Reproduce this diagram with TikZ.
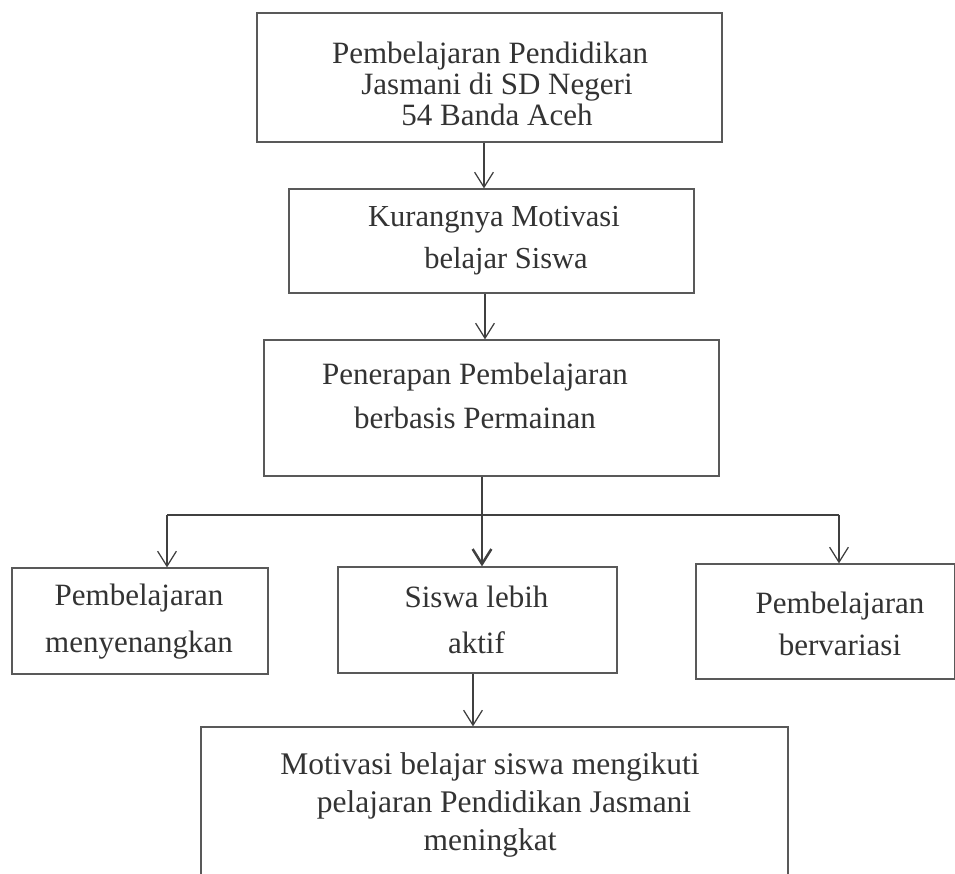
\documentclass[tikz,border=0pt]{standalone}
\usepackage{fontspec}
\setmainfont{Liberation Serif}
\usetikzlibrary{arrows.meta}
\begin{document}
\begin{tikzpicture}[x=0.4pt,y=-0.4pt,
  box/.style={draw=black!65, line width=0.5pt, rectangle, inner sep=0pt},
  txt/.style={align=center, text=black!80, inner sep=0pt},
  conn/.style={draw=black!75, line width=0.5pt},
  arr/.style={conn, -{Straight Barb[length=6pt,width=7.5pt]}}]
\clip (0,0) rectangle (955,874);
\fill[white] (0,0) rectangle (955,874);
% boxes
\node[box, minimum width=186pt, minimum height=51.6pt] (b1) at (489.5,77.5) {};
\node[box, minimum width=162pt, minimum height=41.6pt] (b2) at (491.5,241) {};
\node[box, minimum width=182pt, minimum height=54.4pt] (b3) at (491.5,408) {};
\node[box, minimum width=102.4pt, minimum height=42.4pt] (b4) at (140,621) {};
\node[box, minimum width=111.6pt, minimum height=42.4pt] (b5) at (477.5,620) {};
\node[box, minimum width=103.6pt, minimum height=46pt] (b6) at (825.5,621.5) {};
\node[box, minimum width=234.8pt, minimum height=69.2pt] (b7) at (494.5,813.5) {};
% texts
\node[txt, font=\fontsize{12.4}{12.4}\selectfont] (t1) at (490,84)
  {Pembelajaran Pendidikan\\\hspace*{5.6pt}Jasmani di SD Negeri\\\hspace*{5.6pt}54 Banda Aceh};
\node[txt, font=\fontsize{12.2}{16.8}\selectfont] (t2) at (494,241)
  {Kurangnya Motivasi\\\hspace*{9.6pt}belajar Siswa};
\node[txt, font=\fontsize{12.4}{17.6}\selectfont] (t3) at (475,396)
  {Penerapan Pembelajaran\\berbasis Permainan};
\node[txt, font=\fontsize{12.4}{18.8}\selectfont] (t4) at (139,621.5)
  {Pembelajaran\\menyenangkan};
\node[txt, font=\fontsize{12.4}{18.4}\selectfont] (t5) at (476.5,620)
  {Siswa lebih\\aktif};
\node[txt, font=\fontsize{12.4}{16.8}\selectfont] (t6) at (840,624)
  {Pembelajaran\\bervariasi};
\node[txt, font=\fontsize{12.6}{15.2}\selectfont] (t7) at (490,805)
  {Motivasi belajar siswa mengikuti\\\hspace*{11.2pt}pelajaran Pendidikan Jasmani\\meningkat};
% connector positions
\coordinate (x1) at (484,0);
\coordinate (x2) at (485,0);
\coordinate (x3) at (482,0);
\coordinate (x5) at (473,0);
\coordinate (jl) at (167,515);
\coordinate (jr) at (839,515);
% connectors
\draw[arr] (b1.south -| x1) -- (b2.north -| x1);
\draw[arr] (b2.south -| x2) -- (b3.north -| x2);
\draw[arr, line width=1pt] (b3.south -| x3) -- (b5.north -| x3);
\draw[conn] (jl) -- (jr);
\draw[arr] (jl) -- (b4.north -| jl);
\draw[arr] (jr) -- (b6.north -| jr);
\draw[arr] (b5.south -| x5) -- (b7.north -| x5);
\end{tikzpicture}
\end{document}
